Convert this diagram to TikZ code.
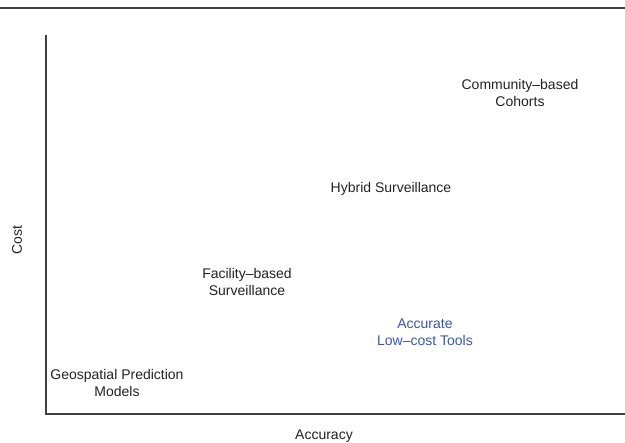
\documentclass[tikz,border=0pt]{standalone}
\usepackage{fontspec}
\setmainfont{Liberation Sans}
\definecolor{txt}{HTML}{222222}
\definecolor{axis}{HTML}{404040}
\definecolor{blu}{HTML}{3A55B0}
\begin{document}
\begin{tikzpicture}[x=1pt,y=1pt,
  lbl/.style={font=\fontsize{14}{17}\selectfont, text=txt, align=center, inner sep=0pt},
  axisline/.style={draw=axis, line width=1.4pt}]
\useasboundingbox (0,0) rectangle (625,443);
\coordinate (tl) at (0,435);
\coordinate (tr) at (625,435);
\coordinate (ytop) at (46,408);
\coordinate (orig) at (46,29);
\coordinate (xend) at (625,29);
\draw[axisline] (tl) -- (tr);
\draw[axisline] (ytop) -- (orig) -- (xend);
\node[lbl] (comm) at (520,349.5) {Community–based\\Cohorts};
\node[lbl] (hyb) at (391,254) {Hybrid Surveillance};
\node[lbl] (fac) at (247,161) {Facility–based\\Surveillance};
\node[lbl, text=blu] (acc) at (425,110.5) {Accurate\\Low–cost Tools};
\node[lbl] (geo) at (117,59.5) {Geospatial Prediction\\Models};
\node[lbl] (xlab) at (324,7) {Accuracy};
\node[lbl, rotate=90] (ylab) at (17,203) {Cost};
\end{tikzpicture}
\end{document}
